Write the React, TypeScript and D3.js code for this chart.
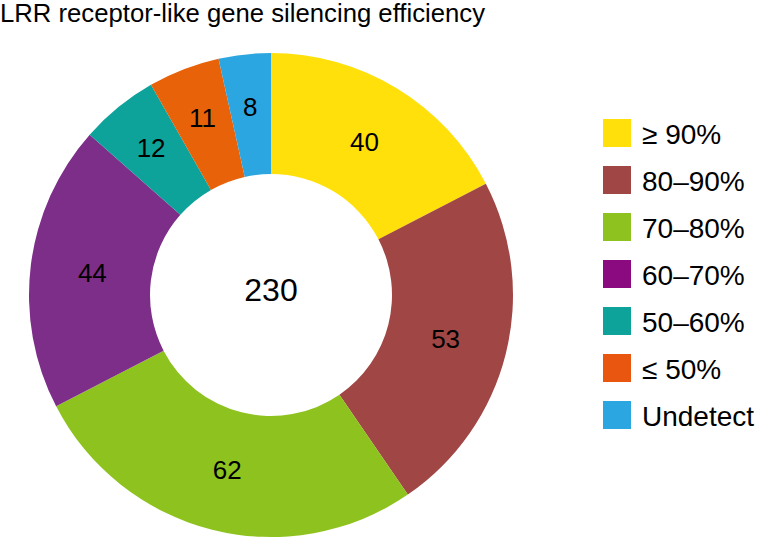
import React, { useEffect, useRef } from "react";
import * as d3 from "d3";

const title = "LRR receptor-like gene silencing efficiency";
const categories = ["≥ 90%", "80–90%", "70–80%", "60–70%", "50–60%", "≤ 50%", "Undetect"];
const counts = [40, 53, 62, 44, 12, 11, 8];
const sliceColors = ["#FFE00A", "#A04644", "#8EC21F", "#7D2E89", "#0DA29A", "#E8620A", "#2BA6E0"];
const legendColors = ["#FFE00A", "#A04644", "#8EC21F", "#8B0A7F", "#0DA29A", "#E8560F", "#2BA6E0"];

const W = 757;
const H = 538;

const App: React.FC = () => {
	const chartRef = useRef<SVGSVGElement | null>(null);

	useEffect(() => {
		document.body.style.margin = "0";
		if (!chartRef.current) return;
		const svg = d3.select(chartRef.current);
		const font = "'Liberation Sans', Arial, Helvetica, sans-serif";

		const cx = 271;
		const cy = 295;
		const outerR = 242;
		const innerR = 121;

		svg.append("text")
			.attr("x", 0)
			.attr("y", 22)
			.attr("font-family", font)
			.attr("font-size", 25.7)
			.attr("fill", "#000")
			.text(title);

		const pie = d3
			.pie<number>()
			.sort(null)
			.value((d) => d);
		const arcs = pie(counts);
		const arc = d3
			.arc<d3.PieArcDatum<number>>()
			.innerRadius(innerR)
			.outerRadius(outerR);
		// labels of the thin slices sit a little further out
		const labelArc = (d: d3.PieArcDatum<number>) => {
			const r = d.data < 15 ? 190 : 180;
			const a = (d.startAngle + d.endAngle) / 2;
			return [r * Math.sin(a), -r * Math.cos(a)];
		};

		const g = svg.append("g").attr("transform", `translate(${cx},${cy})`);

		g.selectAll(".slice")
			.data(arcs)
			.enter()
			.append("path")
			.attr("class", "slice")
			.attr("d", arc)
			.attr("fill", (d, i) => sliceColors[i]);

		g.selectAll(".slice-label")
			.data(arcs)
			.enter()
			.append("text")
			.attr("class", "slice-label")
			.attr("transform", (d) => {
				const [x, y] = labelArc(d);
				return `translate(${x},${y})`;
			})
			.attr("text-anchor", "middle")
			.attr("dy", "0.36em")
			.attr("font-family", font)
			.attr("font-size", 26)
			.text((d) => d.data);

		g.append("text")
			.attr("text-anchor", "middle")
			.attr("y", 6)
			.attr("font-family", font)
			.attr("font-size", 32)
			.text(d3.sum(counts));

		const legendY = d3
			.scalePoint<string>()
			.domain(categories)
			.range([119, 401]);

		const legend = svg
			.selectAll(".legend")
			.data(categories)
			.enter()
			.append("g")
			.attr("class", "legend")
			.attr("transform", (d) => `translate(603,${legendY(d)})`);

		legend
			.append("rect")
			.attr("width", 28)
			.attr("height", 28)
			.attr("fill", (d, i) => legendColors[i]);

		legend
			.append("text")
			.attr("x", 39)
			.attr("y", 25)
			.attr("font-family", font)
			.attr("font-size", 28)
			.text((d) => d);

		return () => {
			svg.selectAll("*").remove();
		};
	}, []);

	return <svg ref={chartRef} width={W} height={H} style={{ display: "block" }} />;
};

export default App;
